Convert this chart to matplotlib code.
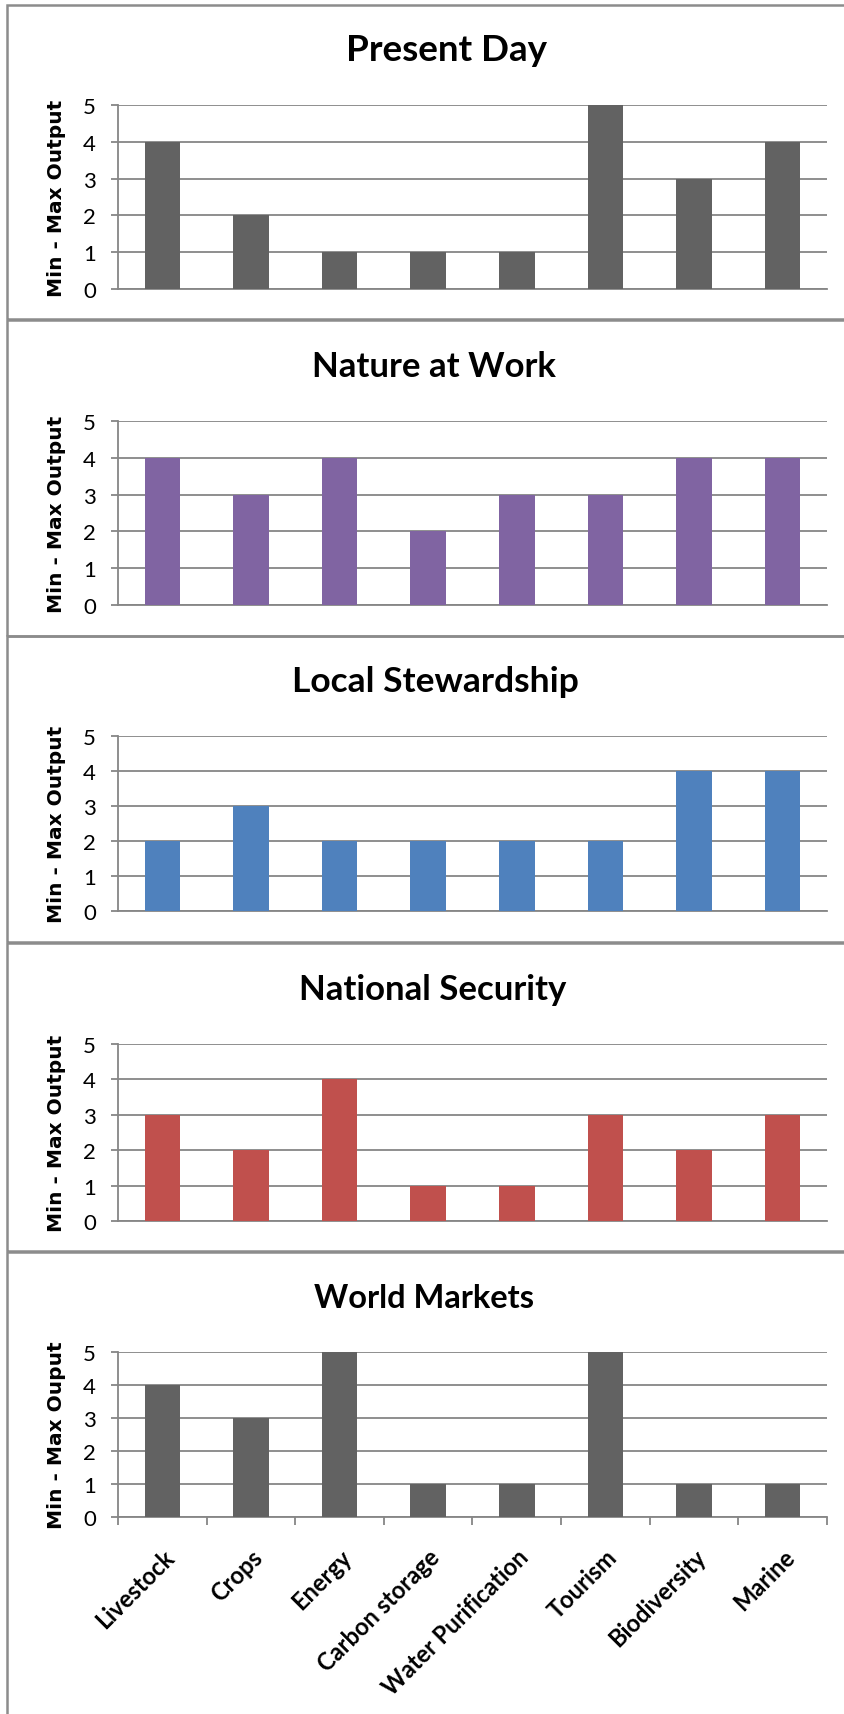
import matplotlib
matplotlib.use('Agg')
import matplotlib.pyplot as plt
from matplotlib.patches import Rectangle

plt.rcParams['font.family'] = ['Lato', 'DejaVu Sans']

categories = ['Livestock', 'Crops', 'Energy', 'Carbon storage',
              'Water Purification', 'Tourism', 'Biodiversity', 'Marine']
present_day = [4, 2, 1, 1, 1, 5, 3, 4]
nature_at_work = [4, 3, 4, 2, 3, 3, 4, 4]
local_stewardship = [2, 3, 2, 2, 2, 2, 4, 4]
national_security = [3, 2, 4, 1, 1, 3, 2, 3]
world_markets = [4, 3, 5, 1, 1, 5, 1, 1]

titles = ['Present Day', 'Nature at Work', 'Local Stewardship',
          'National Security', 'World Markets']
ylabels = ['Min - Max Output'] * 4 + ['Min - Max Ouput']
series = [present_day, nature_at_work, local_stewardship,
          national_security, world_markets]
colors = ['#626262', '#8064A2', '#4F81BD', '#C0504D', '#626262']

W, H = 845, 1715
fig = plt.figure(figsize=(W / 100, H / 100), dpi=100)

# layout in pixels: (panel top, panel bottom, y=5 line, y=0 line, title x, title size)
panels = [(6, 320, 106, 290, 447, 26.5),
          (321, 637, 422, 606, 434, 25),
          (637, 943, 737, 912, 435, 25.5),
          (944, 1252, 1045, 1222, 433, 25),
          (1253, 1730, 1353, 1518, 424, 23.5)]
ax_left, ax_right = 118, 827
grid_c = '#868686'

for k, (ptop, pbot, y5, y0, tx, tsize) in enumerate(panels):
    # panel frame
    fig.patches.append(Rectangle((7 / W, 1 - pbot / H), (W + 20) / W, (pbot - ptop) / H,
                                 transform=fig.transFigure, fill=False,
                                 edgecolor='#8c8c8c', linewidth=1.8))
    ax = fig.add_axes([ax_left / W, 1 - y0 / H, (ax_right - ax_left) / W, (y0 - y5) / H])
    x = range(len(categories))
    ax.bar(x, series[k], width=0.4, color=colors[k], zorder=3)
    ax.set_xlim(-0.5, len(categories) - 0.5)
    ax.set_ylim(0, 5)
    ax.set_yticks(range(6))
    ax.yaxis.grid(True, color=grid_c, linewidth=1.3, zorder=0)
    for s in ['top', 'right']:
        ax.spines[s].set_visible(False)
    for s in ['left', 'bottom']:
        ax.spines[s].set_color(grid_c)
        ax.spines[s].set_linewidth(1.3)
    ax.tick_params(axis='y', length=5, width=1.3, color=grid_c, pad=11,
                   labelsize=16, labelcolor='black')
    if k == len(panels) - 1:
        ax.set_xticks([i + 0.5 for i in range(-1, len(categories))], minor=True)
        ax.set_xticks(list(x))
        ax.set_xticklabels(categories, rotation=45, ha='right',
                           rotation_mode='anchor', fontsize=17, fontweight='bold')
        ax.tick_params(axis='x', which='major', length=0, pad=20)
        ax.tick_params(axis='x', which='minor', length=6, width=1.3, color=grid_c)
    else:
        ax.set_xticks([])
    fig.text(tx / W, 1 - (y5 - 45) / H, titles[k], ha='center', va='baseline',
             fontsize=tsize, fontweight='bold')
    fig.text(57 / W, 1 - (y5 + y0) / 2 / H, ylabels[k], rotation=90,
             ha='center', va='center', fontsize=14.5, fontweight='bold',
             family='DejaVu Sans')

fig.savefig('out.png', dpi=100)
